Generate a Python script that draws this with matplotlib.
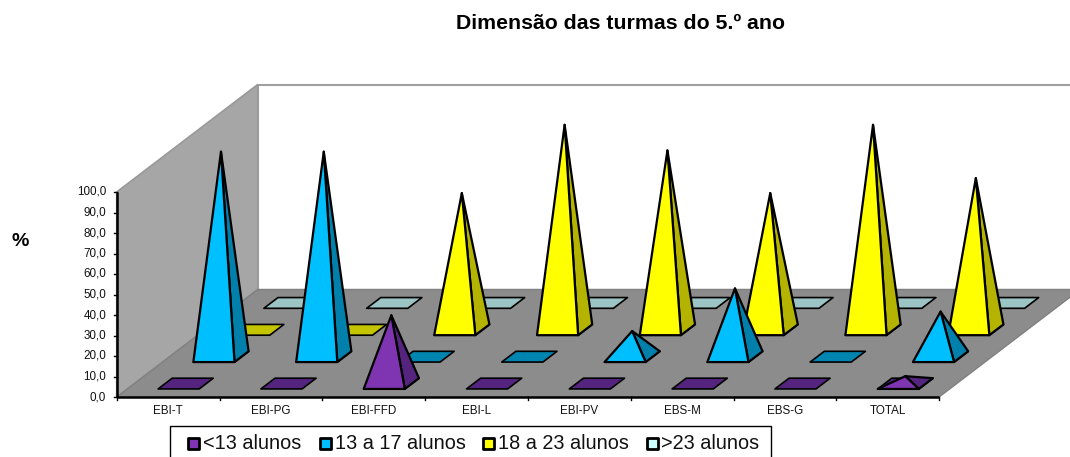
import matplotlib
matplotlib.use("Agg")
import matplotlib.pyplot as plt
from matplotlib.patches import Polygon, Rectangle

plt.rcParams['font.family'] = ['Liberation Sans', 'DejaVu Sans']

categories = ["EBI-T", "EBI-PG", "EBI-FFD", "EBI-L", "EBI-PV", "EBS-M", "EBS-G", "TOTAL"]
series_names = ["<13 alunos", "13 a 17 alunos", "18 a 23 alunos", ">23 alunos"]
under_13 = [0, 0, 33.3, 0, 0, 0, 0, 3.6]
from_13_to_17 = [100, 100, 0, 0, 12.5, 33.3, 0, 22]
from_18_to_23 = [0, 0, 66.7, 100, 87.5, 66.7, 100, 74]
over_23 = [0, 0, 0, 0, 0, 0, 0, 0]
y_ticks = [0, 10, 20, 30, 40, 50, 60, 70, 80, 90, 100]

front_colors = ["#7F35B2", "#00BFFF", "#FFFF00", "#CCFFFF"]
side_colors = ["#55247F", "#0080AA", "#B3B300", "#88AAAA"]
flat_colors = ["#55247F", "#0085B0", "#C4C400", "#9CC4C4"]
legend_colors = ["#7F35B2", "#00BFFF", "#FFFF00", "#CCFFFF"]

# oblique projection of the 3d chart box, in figure pixels
X0, Y0 = 116.7, 397.0
CAT_W = 102.8
DEPTH_X, DEPTH_Y = 141.0, -107.5
V_SCALE = 2.05


def project(cat, depth, value):
    # cat in category units, depth 0..4 (one unit per series), value in %
    x = X0 + cat * CAT_W + depth / 4 * DEPTH_X
    y = Y0 + depth / 4 * DEPTH_Y - value * V_SCALE
    return x, y


def draw_pyramid(ax, cat, row, value):
    l, r = cat + 0.3, cat + 0.7
    f, b = row + 0.3, row + 0.7
    a = project(l, f, 0)
    c = project(r, f, 0)
    d = project(r, b, 0)
    e = project(l, b, 0)
    z = 5 + (3 - row) * 10 + cat * 0.1
    lw = 1.6
    ax.add_patch(Polygon([a, c, d, e], closed=True, fc=flat_colors[row], ec="black",
                         lw=1.2, joinstyle="round", zorder=z))
    if value <= 0:
        return
    tip = project(cat + 0.5, row + 0.5, value)
    ax.add_patch(Polygon([c, d, tip], closed=True, fc=side_colors[row], ec="black",
                         lw=lw, joinstyle="round", zorder=z + 0.1))
    ax.add_patch(Polygon([a, c, tip], closed=True, fc=front_colors[row], ec="black",
                         lw=lw, joinstyle="round", zorder=z + 0.2))


fig = plt.figure(figsize=(10.7, 4.57), dpi=100)
ax = fig.add_axes([0, 0, 1, 1])
ax.set_xlim(0, 1070)
ax.set_ylim(457, 0)
ax.axis("off")

n = len(categories)
top = y_ticks[-1]

# walls and floor
ax.add_patch(Polygon([project(0, 4, 0), project(n, 4, 0), project(n, 4, top), project(0, 4, top)],
                     closed=True, fc="white", ec="#A0A0A0", lw=1.5, zorder=1))
ax.add_patch(Polygon([project(0, 0, 0), project(0, 4, 0), project(0, 4, top), project(0, 0, top)],
                     closed=True, fc="#A6A6A6", ec="#999999", lw=1.2, zorder=2))
ax.add_patch(Polygon([project(0, 0, 0), project(n, 0, 0), project(n, 4, 0), project(0, 4, 0)],
                     closed=True, fc="#8C8C8C", ec="#808080", lw=1, zorder=3))

# pyramids
all_series = [under_13, from_13_to_17, from_18_to_23, over_23]
for row, values in enumerate(all_series):
    for cat, v in enumerate(values):
        draw_pyramid(ax, cat, row, v)

# axes
px, py0 = project(0, 0, 0)
_, py1 = project(0, 0, top)
ax.plot([px, px], [py0, py1], color="black", lw=1.8, zorder=50, solid_capstyle="butt")
ax.plot([px, project(n, 0, 0)[0]], [py0, py0], color="black", lw=1.8, zorder=50, solid_capstyle="butt")
for t in y_ticks:
    _, ty = project(0, 0, t)
    ax.plot([px - 3, px], [ty, ty], color="black", lw=1, zorder=50)
    ax.text(px - 10.5, ty, f"{t:.1f}".replace(".", ","), ha="right", va="center", fontsize=8.4, color="#111111")
for i in range(n + 1):
    tx, _ = project(i, 0, 0)
    ax.plot([tx, tx], [py0, py0 + 3], color="black", lw=1, zorder=50)
for i, name in enumerate(categories):
    tx, _ = project(i + 0.5, 0, 0)
    ax.text(tx, 410.7, name, ha="center", va="center", fontsize=8.4, color="#111111")

ax.text(620.5, 23.5, "Dimensão das turmas do 5.º ano", ha="center", va="center", fontsize=15.3, fontweight="bold")
ax.text(20, 241, "%", ha="center", va="center", fontsize=14, fontweight="bold")

# legend
ax.add_patch(Rectangle((169.5, 425.5), 601, 35, fc="white", ec="black", lw=1, zorder=60))
swatch_x = [188, 320, 483, 647]
text_x = [203, 335, 498, 661]
for name, sx, tx, col in zip(series_names, swatch_x, text_x, legend_colors):
    ax.add_patch(Rectangle((sx, 438), 11, 11, fc=col, ec="black", lw=2, joinstyle="round", zorder=61))
    ax.text(tx, 443.5, name, ha="left", va="center", fontsize=14.3, color="#111111", zorder=61)

fig.savefig("out.png", dpi=100)
